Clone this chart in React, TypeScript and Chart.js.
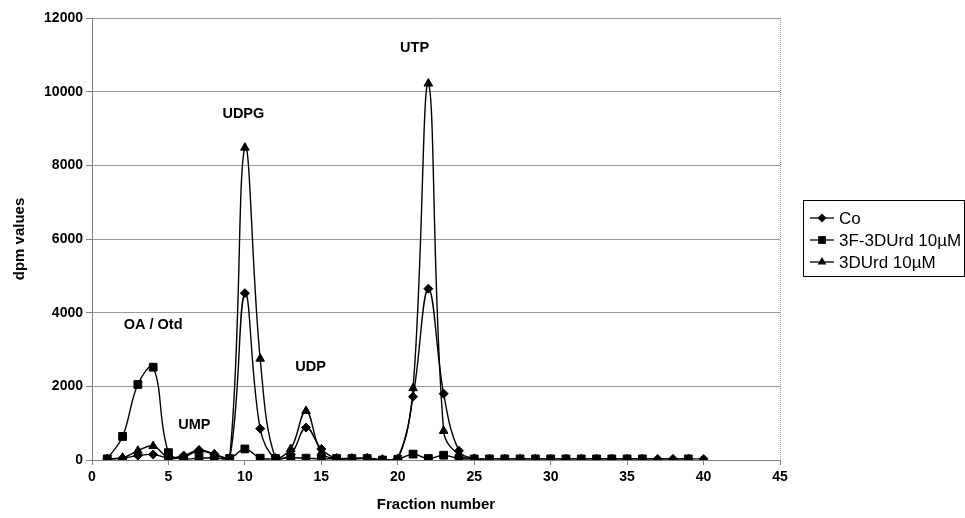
import React, { useEffect, useRef } from 'react';
import { Chart, registerables } from 'chart.js';

Chart.register(...registerables);

const FONT = '"Liberation Sans", Arial, Helvetica, sans-serif';

const fractions = [1, 2, 3, 4, 5, 6, 7, 8, 9, 10, 11, 12, 13, 14, 15, 16, 17, 18, 19, 20, 21, 22, 23, 24, 25, 26, 27, 28, 29, 30, 31, 32, 33, 34, 35, 36, 37, 38, 39, 40];

const coValues = [30, 50, 120, 150, 60, 120, 270, 160, 30, 4530, 850, 30, 150, 880, 300, 40, 40, 50, 10, 30, 1720, 4650, 1800, 250, 40, 30, 30, 30, 30, 30, 30, 30, 30, 30, 30, 30, 30, 30, 30, 30];

const f3DUrdValues: (number | null)[] = [30, 640, 2050, 2520, 200, 40, 50, 60, 40, 300, 50, 40, 60, 50, 30, 40, 40, 40, 0, 20, 160, 40, 130, 40, 30, 30, 30, 30, 30, 30, 30, 30, 30, 30, 30, 30, null, null, 30, null];

const urd3DValues = [30, 60, 250, 380, 60, 80, 250, 150, 40, 8480, 2750, 40, 300, 1330, 200, 40, 40, 40, 10, 30, 1950, 10220, 790, 130, 30];

const seriesNames = ['Co', '3F-3DUrd 10µM', '3DUrd 10µM'];
const seriesStyles = ['rectRot', 'rect', 'triangle'];

const peakLabels = ['OA / Otd', 'UMP', 'UDPG', 'UDP', 'UTP'];
const peakLabelX = [4.0, 6.7, 9.9, 14.3, 21.1];
const peakLabelY = [3665, 950, 9394, 2525, 11186];

const xTicks = { min: 0, max: 45, step: 5 };
const yTicks = { min: 0, max: 12000, step: 2000 };

function toPoints(vals: (number | null)[]) {
  return vals.map((v, i) => ({ x: fractions[i], y: v }));
}

function drawMarker(ctx: CanvasRenderingContext2D, style: string, x: number, y: number) {
  ctx.beginPath();
  if (style === 'rectRot') {
    const r = 4.5;
    ctx.moveTo(x, y - r);
    ctx.lineTo(x + r, y);
    ctx.lineTo(x, y + r);
    ctx.lineTo(x - r, y);
    ctx.closePath();
  } else if (style === 'rect') {
    const s = 3.9;
    ctx.rect(x - s, y - s, 2 * s, 2 * s);
  } else {
    const r = 5;
    const a = (2 * Math.PI) / 3;
    ctx.moveTo(x, y - r);
    ctx.lineTo(x + Math.sin(a) * r, y - Math.cos(a) * r);
    ctx.lineTo(x - Math.sin(a) * r, y - Math.cos(a) * r);
    ctx.closePath();
  }
  ctx.fill();
}

const extrasPlugin = {
  id: 'extras',
  afterDraw(chart: any) {
    const ctx: CanvasRenderingContext2D = chart.ctx;
    const xs = chart.scales.x;
    const ys = chart.scales.y;
    const area = chart.chartArea;
    ctx.save();
    // right border (dotted)
    ctx.strokeStyle = '#999';
    ctx.lineWidth = 1;
    ctx.setLineDash([1, 1]);
    ctx.beginPath();
    ctx.moveTo(Math.round(area.right) + 0.5, area.top);
    ctx.lineTo(Math.round(area.right) + 0.5, area.bottom);
    ctx.stroke();
    ctx.setLineDash([]);

    // peak labels
    ctx.fillStyle = '#000';
    ctx.font = `bold 14.5px ${FONT}`;
    ctx.textAlign = 'center';
    ctx.textBaseline = 'middle';
    peakLabels.forEach((t, i) => {
      ctx.fillText(t, xs.getPixelForValue(peakLabelX[i]), ys.getPixelForValue(peakLabelY[i]));
    });

    // legend
    const lx = 803.5;
    const ly = 200.5;
    ctx.strokeStyle = '#000';
    ctx.lineWidth = 1;
    ctx.strokeRect(lx, ly, 161, 76);
    ctx.font = `17px ${FONT}`;
    ctx.textAlign = 'left';
    seriesNames.forEach((name, i) => {
      const cy = 218 + i * 22;
      ctx.strokeStyle = '#000';
      ctx.lineWidth = 1.3;
      ctx.beginPath();
      ctx.moveTo(810, cy);
      ctx.lineTo(834, cy);
      ctx.stroke();
      ctx.fillStyle = '#000';
      drawMarker(ctx, seriesStyles[i], 822, cy);
      ctx.fillText(name, 839, cy + 1);
    });
    ctx.restore();
  },
};

export default function App() {
  const ref = useRef<HTMLCanvasElement | null>(null);

  useEffect(() => {
    if (!ref.current) return;
    const common = {
      borderColor: '#000',
      backgroundColor: '#000',
      pointBackgroundColor: '#000',
      pointBorderColor: '#000',
      borderWidth: 1.4,
      pointBorderWidth: 1,
      tension: 0.4,
      fill: false,
      spanGaps: true,
    };
    const tickFont = { family: FONT, size: 14, weight: 'bold' };
    const titleFont = { family: FONT, size: 15, weight: 'bold' };
    const chart = new Chart(ref.current, {
      type: 'line',
      data: {
        datasets: [
          { ...common, label: seriesNames[0], data: toPoints(coValues), pointStyle: 'rectRot', pointRadius: 4.5, order: 1 },
          { ...common, label: seriesNames[1], data: toPoints(f3DUrdValues), pointStyle: 'rect', pointRadius: 5.5, order: 0 },
          { ...common, label: seriesNames[2], data: toPoints(urd3DValues), pointStyle: 'triangle', pointRadius: 5, order: 2 },
        ] as any,
      },
      options: {
        responsive: false,
        animation: false,
        events: [],
        layout: { padding: { left: 0, right: 185, top: 18, bottom: 0 } },
        plugins: { legend: { display: false }, tooltip: { enabled: false } },
        scales: {
          x: {
            type: 'linear',
            min: xTicks.min,
            max: xTicks.max,
            ticks: {
              stepSize: xTicks.step,
              color: '#000',
              font: tickFont,
              padding: 4,
              maxRotation: 0,
              callback: (v: any) => String(v),
            },
            grid: { drawOnChartArea: false, drawTicks: true, tickLength: 5, tickColor: '#808080' },
            border: { color: '#808080' },
            title: {
              display: true,
              text: 'Fraction number',
              color: '#000',
              font: titleFont,
              padding: { top: 0, bottom: 4 },
            },
            afterFit: (s: any) => {
              s.height = 58;
            },
          },
          y: {
            min: yTicks.min,
            max: yTicks.max,
            ticks: {
              stepSize: yTicks.step,
              color: '#000',
              font: tickFont,
              padding: 3,
              callback: (v: any) => String(v),
            },
            grid: { color: '#999', tickColor: '#808080', tickLength: 6 },
            border: { color: '#808080' },
            title: {
              display: true,
              text: 'dpm values',
              color: '#000',
              font: titleFont,
              padding: { top: 11, bottom: 0 },
            },
            afterFit: (s: any) => {
              s.width = 92;
            },
          },
        },
      } as any,
      plugins: [extrasPlugin],
    });
    return () => chart.destroy();
  }, []);

  return (
    <div style={{ position: 'absolute', left: 0, top: 0, width: 965, height: 518, background: '#fff' }}>
      <canvas ref={ref} width={965} height={518} style={{ display: 'block' }} />
    </div>
  );
}
